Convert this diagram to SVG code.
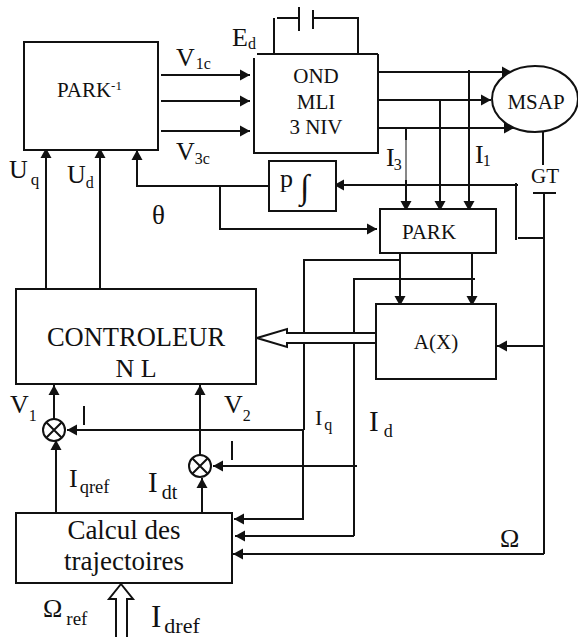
<svg xmlns="http://www.w3.org/2000/svg" width="578" height="637" viewBox="0 0 578 637">
<style>
text{font-family:"Liberation Serif","Times New Roman",serif;fill:#111}
.b{fill:#fff;stroke:#111;stroke-width:2}
.w{fill:none;stroke:#111;stroke-width:2}
.a{fill:none;stroke:#111;stroke-width:2;marker-end:url(#ah)}
.h{fill:#fff;stroke:#111;stroke-width:2}
.s{font-size:16px}
.t{font-size:26px}
.n{font-size:21px}
.m{text-anchor:middle}
</style>
<defs>
<marker id="ah" markerUnits="userSpaceOnUse" markerWidth="11" markerHeight="12" refX="10" refY="6" orient="auto"><path d="M0,0.500L10,6L0,11.500Z" fill="#111"/></marker>
</defs>
<rect width="578" height="637" fill="#fff"/>
<g id="connectors">
<path class="a" d="M161 75H250"/>
<path class="a" d="M161 101H250"/>
<path class="a" d="M161 131H250"/>
<path class="w" d="M257 54H378M274 54V18M277 18H299M299 7V31M313 10V29M313 18H358V54"/>
<path class="a" d="M379 72H512"/>
<path class="a" d="M379 100H491"/>
<path class="a" d="M379 128H514"/>
<path class="w" d="M406 128V140"/>
<path d="M406 140V180" fill="none" stroke="#111" stroke-width="1"/>
<path class="a" d="M406 180V211"/>
<path class="a" d="M440 100V211"/>
<path class="a" d="M469 70V211"/>
<path class="w" d="M543 127V165M533 193H556M544 193V554"/>
<path class="a" d="M544 554H233"/>
<path class="a" d="M518 185H334"/>
<path class="w" d="M516 183V240M518 238H544"/>
<path class="a" d="M269 186H137V150"/>
<path class="a" d="M220 186V229H377"/>
<path class="a" d="M46 289V148"/>
<path class="a" d="M100 289V148"/>
<path class="a" d="M400 249V306"/>
<path class="a" d="M472 249V306"/>
<path class="w" d="M400 260H304V430"/>
<path class="a" d="M304 430H67"/>
<path class="a" d="M303 430V519H234"/>
<path class="w" d="M475 279H354V536"/>
<path class="a" d="M354 536H235"/>
<path class="a" d="M357 466H213"/>
<path class="a" d="M544 346H497"/>
<path class="a" d="M54 420V385"/>
<path class="a" d="M200 456V385"/>
<path class="a" d="M56 513V440"/>
<path class="a" d="M202 513V478"/>
<path class="w" d="M84 406V425M232 441V460"/>
<path class="h" d="M376 333H287V329L257 338L287 347V343H376"/>
<path class="h" d="M116 637V599H109L121 584L133 599H127V637"/>
</g>
<g id="park-inv"><rect class="b" x="24" y="42" width="134" height="108"/><text class="n" x="57" y="97">PARK<tspan font-size="13" dy="-7">-1</tspan></text></g>
<g id="ond"><path class="w" d="M254 58V153H378V54"/><text class="m n" x="316" y="83">OND</text><text class="m n" x="316" y="109">MLI</text><text class="m n" x="316" y="134">3 NIV</text></g>
<g id="msap"><ellipse class="b" cx="535" cy="99" rx="43" ry="33"/><text class="m n" x="536" y="109">MSAP</text></g>
<g id="pint"><rect class="b" x="269" y="161" width="67" height="50"/><text x="280" y="187" class="t">p</text><text x="300" y="198" font-size="34">∫</text></g>
<g id="park"><rect class="b" x="380" y="209" width="116" height="44"/><text class="m n" x="429" y="239">PARK</text></g>
<g id="ax"><rect class="b" x="376" y="304" width="120" height="75"/><text class="m n" x="436" y="349">A(X)</text></g>
<g id="controleur"><rect class="b" x="16" y="289" width="240" height="95"/><text class="m" style="font-size:26.500px" x="136" y="346">CONTROLEUR</text><text class="m t" x="136" y="377">N L</text></g>
<g id="calcul"><rect class="b" x="16" y="513" width="216" height="70"/><text class="m" font-size="27" x="124" y="539">Calcul des</text><text class="m" font-size="27" x="124" y="570">trajectoires</text></g>
<g id="sum1"><circle class="b" cx="54" cy="430" r="11"/><path class="w" d="M46.500 422.500L61.500 437.500M61.500 422.500L46.500 437.500"/></g>
<g id="sum2"><circle class="b" cx="200" cy="466" r="11"/><path class="w" d="M192.500 458.500L207.500 473.500M207.500 458.500L192.500 473.500"/></g>
<g id="labels">
<text x="232" y="45.500" class="t">E<tspan class="s" dy="3.500">d</tspan></text>
<text x="176" y="66" class="t">V<tspan class="s" dx="1" dy="3">1c</tspan></text>
<text x="176" y="160" class="t">V<tspan class="s" dx="0" dy="4">3c</tspan></text>
<text x="9" y="178" class="t">U<tspan style="font-size:17px" dx="3" dy="7">q</tspan></text>
<text x="67" y="183" class="t">U<tspan class="s" dx="0" dy="5">d</tspan></text>
<text x="152" y="224" font-size="27">θ</text>
<text x="386" y="166" class="t">I<tspan class="s" dx="-1" dy="4">3</tspan></text>
<text x="475" y="163" class="t">I<tspan class="s" dx="-1" dy="3">1</tspan></text>
<text class="m n" x="545" y="183">GT</text>
<text x="10" y="413" class="t">V<tspan class="s" dy="8">1</tspan></text>
<text x="224" y="413" class="t">V<tspan class="s" dy="8">2</tspan></text>
<text x="69" y="487" class="t">I<tspan style="font-size:18.500px" dx="2" dy="6">qref</tspan></text>
<text x="148" y="492" font-size="29">I<tspan style="font-size:20px" dx="4" dy="7">dt</tspan></text>
<text x="315" y="425" font-size="22">I<tspan class="s" dx="2" dy="5">q</tspan></text>
<text x="369" y="431" font-size="29">I<tspan style="font-size:18px" dx="5" dy="6">d</tspan></text>
<text x="500" y="547" class="t">Ω</text>
<text x="43" y="617" class="t">Ω<tspan style="font-size:19px" dx="4" dy="8">ref</tspan></text>
<text x="151" y="627" font-size="31">I<tspan style="font-size:22px" dx="3" dy="6">dref</tspan></text>
</g>
</svg>
